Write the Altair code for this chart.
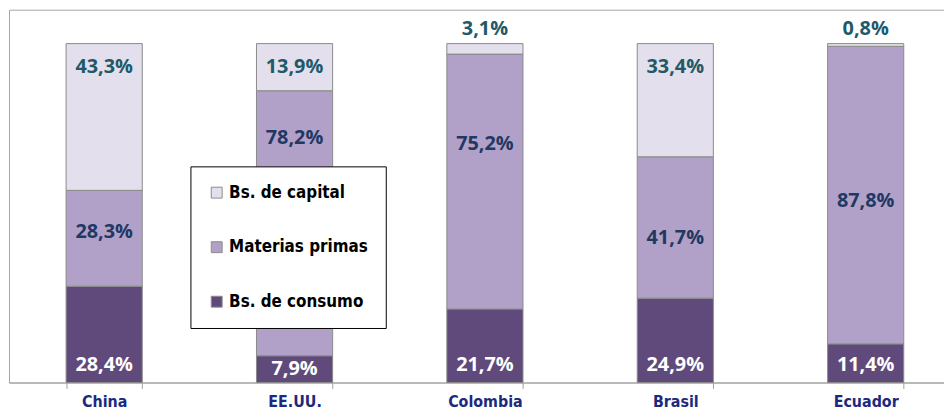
import altair as alt
import pandas as pd

countries = ["China", "EE.UU.", "Colombia", "Brasil", "Ecuador"]
consumo = [28.4, 7.9, 21.7, 24.9, 11.4]
materias = [28.3, 78.2, 75.2, 41.7, 87.8]
capital = [43.3, 13.9, 3.1, 33.4, 0.8]
# where the "Materias primas" labels sit in the reference (percent scale)
materias_label_at = [44.3, 72.1, 70.4, 42.5, 53.6]

series = ["Bs. de capital", "Materias primas", "Bs. de consumo"]
bar_colors = ["#e4dfec", "#b1a0c7", "#604a7b"]
text_colors = ["#215968", "#1f3864", "#ffffff"]


def fmt(v):
    return f"{v:.1f}".replace(".", ",") + "%"


rows = []
for i, c in enumerate(countries):
    rows.append(dict(country=c, series=series[2], value=consumo[i], ord=1,
                     labpos=min(consumo[i] / 2, 5.3), label=fmt(consumo[i]), tcol=text_colors[2]))
    rows.append(dict(country=c, series=series[1], value=materias[i], ord=2,
                     labpos=materias_label_at[i], label=fmt(materias[i]), tcol=text_colors[1]))
    cap_pos = 104.3 if capital[i] < 5 else 100 - min(capital[i] / 2, 7)
    rows.append(dict(country=c, series=series[0], value=capital[i], ord=3,
                     labpos=cap_pos, label=fmt(capital[i]), tcol=text_colors[0]))
df = pd.DataFrame(rows)

narrow = "DejaVu Sans Condensed, sans-serif"

base = alt.Chart(df)

bars = base.mark_bar(stroke="#8a8a8a", strokeWidth=1).encode(
    x=alt.X(
        "country:N",
        sort=countries,
        scale=alt.Scale(range=[0, 960], paddingInner=0.6, paddingOuter=0.3),
        axis=alt.Axis(
            title=None,
            labelAngle=0,
            tickBand="extent",
            domainColor="#a0a0a0",
            tickColor="#a0a0a0",
            tickSize=6,
            labelFont=narrow,
            labelFontSize=16,
            labelFontWeight="bold",
            labelColor="#1b2a80",
            labelPadding=5,
        ),
    ),
    y=alt.Y("value:Q", stack="zero", scale=alt.Scale(domain=[0, 110], nice=False), axis=None),
    color=alt.Color(
        "series:N",
        scale=alt.Scale(domain=series, range=bar_colors),
        legend=alt.Legend(
            title=None,
            orient="none",
            legendX=183,
            legendY=158,
            labelFont=narrow,
            labelFontSize=17,
            labelFontWeight="bold",
            labelColor="#000000",
            symbolType="square",
            symbolSize=121,
            symbolStrokeColor="#8c8c8c",
            symbolStrokeWidth=1,
            rowPadding=37,
            padding=18,
            fillColor="#ffffff",
            strokeColor="#000000",
            labelOffset=4,
        ),
    ),
    order=alt.Order("ord:Q"),
)

labels = base.mark_text(font="Open Sans", fontSize=20, fontWeight="bold").encode(
    x=alt.X("country:N", sort=countries),
    y=alt.Y("labpos:Q", stack=None),
    text="label:N",
    fill=alt.Fill("tcol:N", scale=None),
)

chart = (
    alt.layer(bars, labels)
    .properties(
        width=943,
        height=376,
        autosize=alt.AutoSizeParams(type="none"),
        padding={"left": 1, "top": 0, "right": 0, "bottom": 28},
    )
    .configure_view(stroke="#a6a6a6", strokeWidth=1)
)

chart.save("out.html", embed_options={"renderer": "svg", "actions": False})
